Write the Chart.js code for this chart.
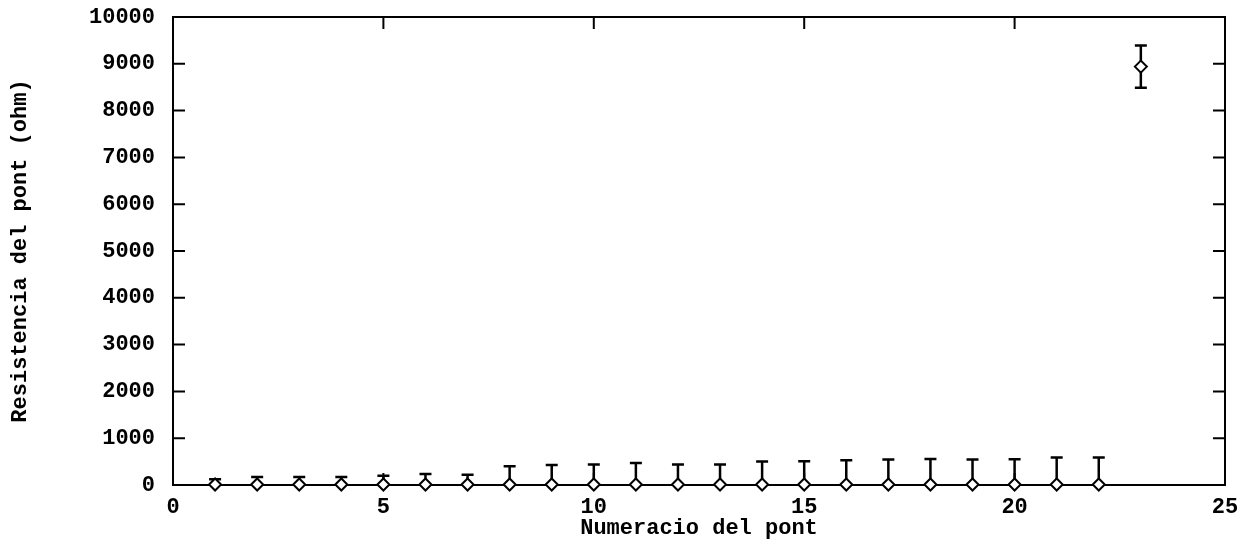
<!DOCTYPE html>
<html>
<head>
<meta charset="utf-8">
<script src="https://cdn.jsdelivr.net/npm/chart.js@4"></script>
<style>
  html, body { margin: 0; padding: 0; background: #fff; }
  #wrap { width: 1250px; height: 548px; }
</style>
</head>
<body>
<div id="wrap"><canvas id="chart"></canvas></div>
<script>
// point numbers and bridge resistance (ohm) with its uncertainty
const pointNumbers = [1, 2, 3, 4, 5, 6, 7, 8, 9, 10, 11, 12, 13, 14, 15, 16, 17, 18, 19, 20, 21, 22, 23];
const resistance = [10, 10, 10, 10, 10, 10, 10, 10, 10, 10, 10, 10, 10, 10, 10, 10, 10, 10, 10, 10, 10, 10, 8940];
const errors = [115, 160, 160, 160, 190, 225, 210, 390, 420, 430, 460, 430, 430, 490, 500, 520, 535, 545, 535, 540, 575, 575, 450];
const xTicks = [0, 5, 10, 15, 20, 25];
const yTicks = [0, 1000, 2000, 3000, 4000, 5000, 6000, 7000, 8000, 9000, 10000];

Chart.defaults.font.family = "'Liberation Mono', 'DejaVu Sans Mono', monospace";
Chart.defaults.font.size = 22;
Chart.defaults.font.weight = "bold";
Chart.defaults.color = "#000";

// frame, inward ticks and error bars
const framePlugin = {
  id: "frame",
  beforeDatasetsDraw(chart) {
    const { ctx, chartArea: a, scales: { x, y } } = chart;
    ctx.save();
    ctx.strokeStyle = "#000";
    ctx.lineWidth = 2;
    ctx.strokeRect(a.left, a.top, a.right - a.left, a.bottom - a.top);

    ctx.beginPath();
    xTicks.forEach((v) => {
      const px = x.getPixelForValue(v);
      ctx.moveTo(px, a.bottom);
      ctx.lineTo(px, a.bottom - 12);
      ctx.moveTo(px, a.top);
      ctx.lineTo(px, a.top + 12);
    });
    yTicks.forEach((v) => {
      const py = y.getPixelForValue(v);
      ctx.moveTo(a.left, py);
      ctx.lineTo(a.left + 12, py);
      ctx.moveTo(a.right, py);
      ctx.lineTo(a.right - 12, py);
    });
    ctx.stroke();

    // error bars, clipped to the plot area
    ctx.beginPath();
    ctx.rect(a.left, a.top, a.right - a.left, a.bottom - a.top);
    ctx.clip();
    ctx.lineWidth = 2.5;
    ctx.beginPath();
    pointNumbers.forEach((n, i) => {
      const px = x.getPixelForValue(n);
      const hi = y.getPixelForValue(resistance[i] + errors[i]);
      const lo = y.getPixelForValue(resistance[i] - errors[i]);
      ctx.moveTo(px, hi);
      ctx.lineTo(px, lo);
      ctx.moveTo(px - 6, hi);
      ctx.lineTo(px + 6, hi);
      ctx.moveTo(px - 6, lo);
      ctx.lineTo(px + 6, lo);
    });
    ctx.stroke();
    ctx.restore();
  },
};

new Chart(document.getElementById("chart"), {
  type: "scatter",
  data: {
    datasets: [
      {
        data: pointNumbers.map((n, i) => ({ x: n, y: resistance[i] })),
        pointStyle: "rectRot",
        pointRadius: 6,
        pointBorderWidth: 2,
        pointBackgroundColor: "#fff",
        pointBorderColor: "#000",
        clip: false,
      },
    ],
  },
  options: {
    responsive: true,
    maintainAspectRatio: false,
    animation: false,
    events: [],
    layout: { padding: { left: 0, right: 25, top: 17, bottom: 0 } },
    plugins: { legend: { display: false }, tooltip: { enabled: false } },
    scales: {
      x: {
        type: "linear",
        min: 0,
        max: 25,
        grid: { display: false, drawTicks: false },
        border: { display: false },
        ticks: { stepSize: 5, padding: 9 },
        title: { display: true, text: "Numeracio del pont", padding: { top: 0, bottom: 6 } },
        afterFit(scale) {
          scale.height = 63;
          scale.paddingLeft = 0;
          scale.paddingRight = 0;
        },
      },
      y: {
        min: 0,
        max: 10000,
        grid: { display: false, drawTicks: false },
        border: { display: false },
        ticks: { stepSize: 1000, padding: 18, callback: (v) => String(v) },
        title: { display: true, text: "Resistencia del pont (ohm)", padding: { top: 7, bottom: 0 } },
        afterFit(scale) {
          scale.width = 173;
          scale.paddingTop = 0;
          scale.paddingBottom = 0;
        },
      },
    },
  },
  plugins: [framePlugin],
});
</script>
</body>
</html>
